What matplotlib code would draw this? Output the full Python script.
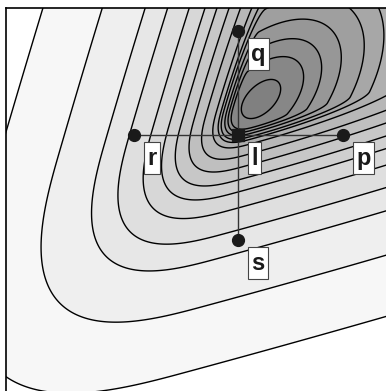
import numpy as np
import matplotlib
matplotlib.use("Agg")
import matplotlib.pyplot as plt
from matplotlib.patches import Rectangle
from matplotlib.transforms import IdentityTransform

# ---- data -------------------------------------------------------------
point_names = ["l", "p", "r", "q", "s"]
point_x = [0.0, 1.05, -1.04, 0.0, 0.0]
point_y = [0.0, 0.0, 0.0, 1.04, -1.05]

# surface: Z = p^2 + q^2 + W(rho), rho = distance into the lower-left walls
peak_x, peak_y = 0.23, 0.36
skew_x, skew_y = 0.29, 0.27
wall_amp, wall_start = 44.0, 0.22
corner_norm = 2.7
scale_p = 0.97

# contour levels:
#   outer levels where they cross the vertical line x = 0 (below l)
outer_level_y = [-2.23, -1.62, -1.18, -0.95, -0.73, -0.57, -0.45, -0.33, -0.22, -0.12]
#   inner rings: distance from the minimum along the 40 deg axis (upper right)
inner_ring_dist = [1.50, 1.26, 0.98, 0.74, 0.52, 0.24]
ring_angle_deg = 40.0


def surface(x, y):
    dx, dy = np.asarray(x) - peak_x, np.asarray(y) - peak_y
    p = dx - skew_x * dy
    q = dy - skew_y * dx
    pm = np.maximum(-p / scale_p, 0.0)
    qm = np.maximum(-q, 0.0)
    rho = (pm ** corner_norm + qm ** corner_norm) ** (1.0 / corner_norm)
    wall = wall_amp * np.maximum(rho - wall_start, 0.0) ** 2
    return p ** 2 + q ** 2 + wall


ang = np.deg2rad(ring_angle_deg)
lv_outer = [float(surface(0.0, y)) for y in outer_level_y]
lv_inner = [float(surface(peak_x + d * np.cos(ang), peak_y + d * np.sin(ang))) for d in inner_ring_dist]
levels = np.unique(np.array(lv_outer + lv_inner))
n_levels = len(levels)

# ---- figure ------------------------------------------------------------
W, H, DPI = 386, 391, 100
fig = plt.figure(figsize=(W / DPI, H / DPI), dpi=DPI)
ax_left_px, ax_top_px = 6, 8
ax = fig.add_axes([ax_left_px / W, -10 / H, (W - ax_left_px + 10) / W, (H - ax_top_px + 10) / H])
ax.set_xlim(-2.32, 1.58)
ax.set_ylim(-2.66, 1.27)

gx = np.linspace(-2.5, 1.8, 700)
gy = np.linspace(-2.9, 1.5, 700)
X, Y = np.meshgrid(gx, gy)
Z = surface(X, Y)

fill_levels = np.concatenate([[-1.0], levels, [1e12]])
grays = list(np.linspace(0.50, 0.97, n_levels)) + [1.0]
colors = [(g, g, g) for g in grays]
ax.contourf(X, Y, Z, levels=fill_levels, colors=colors, zorder=1)
ax.contour(X, Y, Z, levels=levels, colors="black", linewidths=1.0, zorder=2)

# connectors
ax.plot([point_x[2], point_x[1]], [point_y[2], point_y[1]], color="#333333", lw=1.0, zorder=3)
ax.plot([point_x[3], point_x[4]], [point_y[3], point_y[4]], color="#333333", lw=1.0, zorder=3)

# markers
for name, x, y in zip(point_names, point_x, point_y):
    if name == "l":
        ax.plot(x, y, marker="s", ms=9, color="#1a1a1a", zorder=4)
    else:
        ax.plot(x, y, marker="o", ms=8.5, color="#1a1a1a", zorder=4)

texts = []
for name, x, y in zip(point_names, point_x, point_y):
    t = ax.annotate(name, (x, y), xytext=(13.3 * 72 / DPI, -11.7 * 72 / DPI),
                    textcoords="offset points", ha="left", va="top",
                    fontsize=17, fontweight="bold", family="Liberation Sans",
                    color="#1a1a1a", zorder=8)
    texts.append(t)

for sp in ["right", "bottom"]:
    ax.spines[sp].set_visible(False)
for sp in ["left", "top"]:
    ax.spines[sp].set_linewidth(1.2)
    ax.spines[sp].set_zorder(9)
ax.set_xticks([])
ax.set_yticks([])

fig.canvas.draw()
renderer = fig.canvas.get_renderer()
for t in texts:
    bb = t.get_window_extent(renderer)
    padx, pady = 3.3, 4.7
    rect = Rectangle((bb.x0 - padx, bb.y0 - pady), bb.width + 2 * padx, bb.height + 2 * pady,
                     transform=IdentityTransform(), facecolor="white", edgecolor="#444444",
                     linewidth=0.8, zorder=7, clip_on=False)
    ax.add_artist(rect)

fig.savefig("out.png", dpi=DPI)
